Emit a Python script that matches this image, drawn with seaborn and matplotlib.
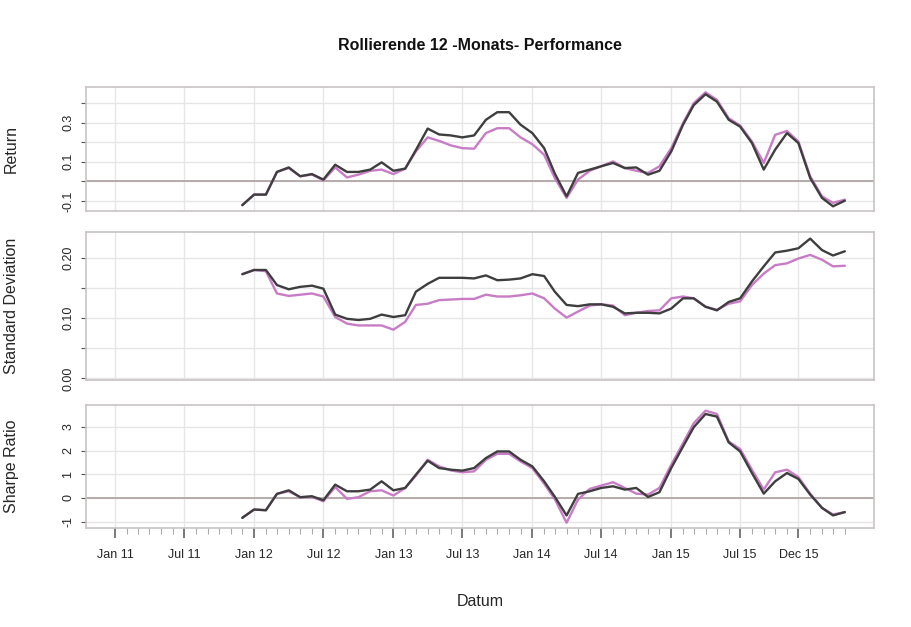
import numpy as np
import pandas as pd
import matplotlib
matplotlib.use("Agg")
import matplotlib.pyplot as plt
import seaborn as sns

# ---------------- data ----------------
title = "Rollierende 12 -Monats- Performance"
x_label = "Datum"
series_names = ["Fonds", "Benchmark"]
first_month = "2011-12-01"
n_months = 53
axis_first_month = "2011-01-01"
axis_last_month = "2016-04-01"

return_dark = [-0.122, -0.068, -0.068, 0.048, 0.071, 0.026, 0.037, 0.009, 0.085, 0.048,
               0.048, 0.060, 0.097, 0.054, 0.065, 0.160, 0.270, 0.240, 0.235, 0.225,
               0.235, 0.315, 0.354, 0.354, 0.290, 0.247, 0.170, 0.040, -0.077, 0.043,
               0.060, 0.077, 0.094, 0.068, 0.071, 0.034, 0.054, 0.153, 0.290, 0.390,
               0.446, 0.408, 0.315, 0.280, 0.196, 0.060, 0.162, 0.247, 0.196, 0.017,
               -0.085, -0.128, -0.099]
return_pink = [-0.122, -0.068, -0.068, 0.048, 0.068, 0.026, 0.035, 0.005, 0.071, 0.020,
               0.034, 0.054, 0.060, 0.037, 0.065, 0.153, 0.225, 0.207, 0.184, 0.170,
               0.167, 0.247, 0.272, 0.272, 0.225, 0.190, 0.136, 0.017, -0.085, 0.009,
               0.054, 0.077, 0.102, 0.068, 0.054, 0.043, 0.077, 0.170, 0.298, 0.400,
               0.456, 0.417, 0.323, 0.286, 0.204, 0.094, 0.238, 0.258, 0.204, 0.026,
               -0.077, -0.110, -0.094]
sd_dark = [0.173, 0.180, 0.180, 0.155, 0.148, 0.152, 0.154, 0.149, 0.106, 0.099,
           0.097, 0.099, 0.106, 0.102, 0.105, 0.144, 0.157, 0.167, 0.167, 0.167,
           0.166, 0.171, 0.163, 0.164, 0.166, 0.173, 0.170, 0.144, 0.122, 0.120,
           0.123, 0.123, 0.119, 0.108, 0.109, 0.109, 0.108, 0.116, 0.133, 0.133,
           0.119, 0.113, 0.127, 0.133, 0.161, 0.186, 0.209, 0.212, 0.216, 0.232,
           0.213, 0.204, 0.211]
sd_pink = [0.173, 0.180, 0.178, 0.141, 0.137, 0.139, 0.141, 0.136, 0.102, 0.091,
           0.088, 0.088, 0.088, 0.081, 0.094, 0.122, 0.124, 0.130, 0.131, 0.132,
           0.132, 0.139, 0.136, 0.136, 0.138, 0.141, 0.133, 0.116, 0.101, 0.111,
           0.121, 0.123, 0.121, 0.105, 0.109, 0.112, 0.113, 0.133, 0.136, 0.133,
           0.119, 0.114, 0.124, 0.128, 0.155, 0.174, 0.188, 0.191, 0.199, 0.205,
           0.197, 0.186, 0.187]
sharpe_dark = [-0.84, -0.49, -0.52, 0.17, 0.32, 0.03, 0.07, -0.10, 0.56, 0.28,
               0.28, 0.35, 0.70, 0.32, 0.42, 0.98, 1.57, 1.26, 1.19, 1.15,
               1.26, 1.68, 1.96, 1.96, 1.61, 1.33, 0.70, 0.05, -0.74, 0.17,
               0.28, 0.42, 0.49, 0.35, 0.42, 0.04, 0.24, 1.26, 2.17, 2.98,
               3.54, 3.43, 2.34, 1.96, 1.05, 0.18, 0.70, 1.05, 0.80, 0.14,
               -0.42, -0.74, -0.60]
sharpe_pink = [-0.84, -0.49, -0.52, 0.17, 0.28, 0.03, 0.04, -0.14, 0.46, -0.04,
               0.03, 0.28, 0.32, 0.10, 0.42, 0.94, 1.61, 1.33, 1.16, 1.08,
               1.12, 1.61, 1.86, 1.86, 1.54, 1.26, 0.60, -0.05, -1.05, -0.07,
               0.38, 0.52, 0.66, 0.42, 0.18, 0.14, 0.42, 1.40, 2.31, 3.15,
               3.68, 3.54, 2.38, 2.06, 1.19, 0.35, 1.08, 1.19, 0.88, 0.18,
               -0.42, -0.70, -0.60]

major_tick_dates = ["2011-01-01", "2011-07-01", "2012-01-01", "2012-07-01", "2013-01-01",
                    "2013-07-01", "2014-01-01", "2014-07-01", "2015-01-01", "2015-07-01",
                    "2015-12-01"]
major_tick_labels = ["Jan 11", "Jul 11", "Jan 12", "Jul 12", "Jan 13", "Jul 13",
                     "Jan 14", "Jul 14", "Jan 15", "Jul 15", "Dec 15"]

return_ticks = [-0.1, 0.0, 0.1, 0.2, 0.3, 0.4]
return_tick_labels = ["-0.1", "", "0.1", "", "0.3", ""]
sd_ticks = [0.0, 0.05, 0.10, 0.15, 0.20]
sd_tick_labels = ["0.00", "", "0.10", "", "0.20"]
sharpe_ticks = [-1, 0, 1, 2, 3]
sharpe_tick_labels = ["-1", "0", "1", "2", "3"]

panel_labels = ["Return", "Standard Deviation", "Sharpe Ratio"]

# ---------------- styling ----------------
sns.set_style("white")
plt.rcParams["font.family"] = ["Liberation Sans", "DejaVu Sans"]

dark_col = "#3e3e3e"
pink_col = "#c97cc6"

dates = pd.date_range(first_month, periods=n_months, freq="MS")
df = pd.DataFrame({
    "Datum": np.concatenate([dates, dates]),
    "Serie": [series_names[0]] * n_months + [series_names[1]] * n_months,
    "Return": return_dark + return_pink,
    "SD": sd_dark + sd_pink,
    "Sharpe": sharpe_dark + sharpe_pink,
})

W, H = 911, 627
fig = plt.figure(figsize=(W / 100, H / 100), dpi=100)
fig.patch.set_facecolor("white")

def rect(top, bottom, left=86, right=874):
    return [left / W, 1 - bottom / H, (right - left) / W, (bottom - top) / H]

ax1 = fig.add_axes(rect(87, 211))
ax2 = fig.add_axes(rect(232, 380))
ax3 = fig.add_axes(rect(405, 528))
axes = [ax1, ax2, ax3]

t0 = pd.Timestamp(axis_first_month)
t1 = pd.Timestamp(axis_last_month)
span = (t1 - t0)
xlim = (t0 - span * 0.04, t1 + span * 0.04)

cols = ["Return", "SD", "Sharpe"]
ylims = [(-0.152, 0.483), (-0.0025, 0.243), (-1.27, 3.92)]
yticks = [return_ticks, sd_ticks, sharpe_ticks]
ylabels_txt = [return_tick_labels, sd_tick_labels, sharpe_tick_labels]
major_dates = pd.to_datetime(major_tick_dates)
minor_dates = pd.date_range(axis_first_month, axis_last_month, freq="MS")

grid_col = "#e6e6e6"
spine_col = "#c9c3c3"
text_col = "#262626"

for k, ax in enumerate(axes):
    ax.set_xlim(xlim)
    ax.set_ylim(ylims[k])
    for d in major_dates:
        ax.axvline(d, color=grid_col, lw=1.0, zorder=0)
    for t in yticks[k]:
        ax.axhline(t, color=grid_col, lw=1.0, zorder=0)
    if k != 1:
        ax.axhline(0, color="#b5abab", lw=1.4, zorder=1)
    sns.lineplot(data=df[df["Serie"] == series_names[1]], x="Datum", y=cols[k],
                 color=pink_col, lw=1.7, ax=ax, legend=False, zorder=3)
    sns.lineplot(data=df[df["Serie"] == series_names[0]], x="Datum", y=cols[k],
                 color=dark_col, lw=1.7, ax=ax, legend=False, zorder=4)
    ax.set_yticks(yticks[k])
    ax.set_yticklabels(ylabels_txt[k], rotation=90, va="center", fontsize=9,
                       color=text_col)
    ax.tick_params(axis="y", direction="out", length=3.5, width=0.8, pad=5,
                   color="#555555", left=True)
    for s in ax.spines.values():
        s.set_color(spine_col)
        s.set_linewidth(1.2)
    ax.set_ylabel(panel_labels[k], fontsize=11.5, color=text_col)
    ax.yaxis.set_label_coords(-0.085, 0.5)
    ax.set_xlabel("")
    ax.set_xticks(major_dates)
    ax.set_xticks(minor_dates, minor=True)
    if k < 2:
        ax.tick_params(axis="x", which="both", bottom=False, labelbottom=False)
    else:
        ax.set_xticklabels(major_tick_labels, fontsize=9, color=text_col)
        ax.tick_params(axis="x", which="major", direction="out", length=7, width=1.1,
                       pad=8, color="#555555", bottom=True)
        ax.tick_params(axis="x", which="minor", direction="out", length=4.5, width=0.8,
                       color="#aaaaaa", bottom=True)
        ax.set_xlabel(x_label, fontsize=11.5, color=text_col)
        ax.xaxis.set_label_coords(0.5, -0.54)

fig.text(480 / W, 1 - 45 / H, title, ha="center", va="center",
         fontsize=11.5, fontweight="bold", color="#111111")

fig.savefig("out.png", dpi=100, facecolor="white")
